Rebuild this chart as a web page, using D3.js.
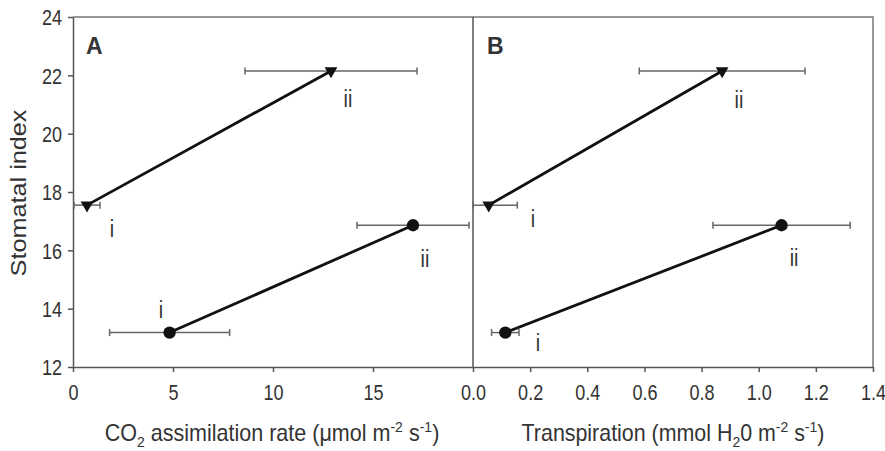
<!DOCTYPE html>
<html>
<head>
<meta charset="utf-8">
<script src="https://cdn.jsdelivr.net/npm/d3@7"></script>
<style>
  body { margin: 0; background: #fff; }
  svg text { font-family: "Liberation Sans", Arial, sans-serif; fill: #333; }
</style>
</head>
<body>
<div id="chart"></div>
<script>
// chart size
var svgWidth = 885;
var svgHeight = 451;

// panel boxes (pixels)
var margin = { top: 17, left: 73 };
var panelW = 400;
var panelH = 350;

// the figure uses a narrow typeface, so text is squeezed sideways
var narrow = 0.82;

// data: two treatments (triangle, circle), stages i and ii
var stages = ["i", "ii"];
var yTicks = [12, 14, 16, 18, 20, 22, 24];
var xTicksA = [0, 5, 10, 15];
var xTicksB = [0, 0.2, 0.4, 0.6, 0.8, 1.0, 1.2, 1.4];

var stomatalTri = [17.55, 22.15];
var stomatalCirc = [13.18, 16.86];

// panel A: CO2 assimilation
var co2Tri = [0.7, 12.9];
var co2TriErr = [0.65, 4.3];
var co2Circ = [4.83, 17.0];
var co2CircErr = [3.0, 2.8];

// panel B: transpiration
var trTri = [0.055, 0.872];
var trTriErr = [0.1, 0.29];
var trCirc = [0.113, 1.08];
var trCircErr = [0.048, 0.24];

var svg = d3.select("#chart").append("svg")
  .attr("width", svgWidth)
  .attr("height", svgHeight);

var yScale = d3.scaleLinear().domain([12, 24]).range([margin.top + panelH, margin.top]);

var xA = d3.scaleLinear().domain([0, 20]).range([margin.left, margin.left + panelW]);
var xB = d3.scaleLinear().domain([0, 1.4]).range([margin.left + panelW, margin.left + 2 * panelW]);

var axisColor = "#555";

// squeeze a text horizontally around its own anchor point
function squeeze(sel, sx) {
  sel.each(function() {
    var t = d3.select(this);
    var x = +t.attr("x") || 0;
    t.attr("transform", `translate(${x},0) scale(${sx},1) translate(${-x},0)`);
  });
}

// frame: top and right border
svg.append("path")
  .attr("d", `M${margin.left},${margin.top}H${margin.left + 2 * panelW}V${margin.top + panelH}`)
  .attr("fill", "none")
  .attr("stroke", "#777")
  .attr("stroke-width", 1.5);

// y axis
var yAxis = svg.append("g")
  .attr("transform", `translate(${margin.left},0)`)
  .call(d3.axisLeft(yScale).tickValues(yTicks).tickSize(5).tickPadding(6).tickSizeOuter(0));

// x axes
var xAxisA = svg.append("g")
  .attr("transform", `translate(0,${margin.top + panelH})`)
  .call(d3.axisBottom(xA).tickValues(xTicksA).tickSize(5).tickPadding(12).tickSizeOuter(0));

var xAxisB = svg.append("g")
  .attr("transform", `translate(0,${margin.top + panelH})`)
  .call(d3.axisBottom(xB).tickValues(xTicksB).tickFormat(d3.format(".1f")).tickSize(5).tickPadding(12).tickSizeOuter(0));

[yAxis, xAxisA, xAxisB].forEach(function(g) {
  g.selectAll("path, line").attr("stroke", axisColor).attr("stroke-width", 1.5);
  g.selectAll("text").attr("font-size", 22).attr("fill", "#333")
    .style("font-family", "'Liberation Sans', Arial, sans-serif");
});
yAxis.selectAll(".tick text").attr("dy", "0.36em").call(squeeze, narrow);
xAxisA.selectAll(".tick text").call(squeeze, narrow);
xAxisB.selectAll(".tick text").call(squeeze, narrow);

// divider between panels
svg.append("line")
  .attr("x1", xB(0)).attr("x2", xB(0))
  .attr("y1", margin.top).attr("y2", margin.top + panelH)
  .attr("stroke", axisColor)
  .attr("stroke-width", 1.5);

// draw one panel's series
function drawPanel(x, triX, triErr, circX, circErr, labelPos) {
  var g = svg.append("g");
  var series = [
    { xs: triX, err: triErr, ys: stomatalTri, shape: d3.symbolTriangle },
    { xs: circX, err: circErr, ys: stomatalCirc, shape: d3.symbolCircle }
  ];
  var x0 = x.range()[0];

  series.forEach(function(s) {
    // error bars
    s.xs.forEach(function(v, i) {
      var lo = Math.max(x(v - s.err[i]), x0);
      var hi = x(v + s.err[i]);
      var y = yScale(s.ys[i]);
      g.append("line").attr("x1", lo).attr("x2", hi).attr("y1", y).attr("y2", y)
        .attr("stroke", "#666").attr("stroke-width", 1.5);
      [lo, hi].forEach(function(cx) {
        g.append("line").attr("x1", cx).attr("x2", cx).attr("y1", y - 3.5).attr("y2", y + 3.5)
          .attr("stroke", "#666").attr("stroke-width", 1.5);
      });
    });

    // connecting line
    g.append("line")
      .attr("x1", x(s.xs[0])).attr("y1", yScale(s.ys[0]))
      .attr("x2", x(s.xs[1])).attr("y2", yScale(s.ys[1]))
      .attr("stroke", "#111").attr("stroke-width", 2.8);

    // markers
    s.xs.forEach(function(v, i) {
      var rot = s.shape === d3.symbolTriangle ? " rotate(180)" : "";
      var size = s.shape === d3.symbolTriangle ? 70 : 120;
      g.append("path")
        .attr("d", d3.symbol().type(s.shape).size(size)())
        .attr("transform", `translate(${x(v)},${yScale(s.ys[i])})${rot}`)
        .attr("fill", "#111");
    });
  });

  // i / ii labels
  labelPos.forEach(function(p) {
    g.append("text")
      .attr("x", p[0]).attr("y", p[1])
      .attr("text-anchor", "middle")
      .attr("font-size", 24)
      .text(p[2])
      .call(squeeze, narrow);
  });
}

drawPanel(xA, co2Tri, co2TriErr, co2Circ, co2CircErr, [
  [112, 237, stages[0]], [348, 107, stages[1]],
  [161, 318, stages[0]], [425, 267, stages[1]]
]);
drawPanel(xB, trTri, trTriErr, trCirc, trCircErr, [
  [533, 227, stages[0]], [739, 108, stages[1]],
  [538, 351, stages[0]], [794, 266, stages[1]]
]);

// panel letters
svg.append("text").attr("x", 86).attr("y", 54)
  .attr("font-size", 23).attr("font-weight", "bold").attr("fill", "#222").text("A");
svg.append("text").attr("x", 487).attr("y", 54)
  .attr("font-size", 23).attr("font-weight", "bold").attr("fill", "#222").text("B");

// fit a text to a given width, keeping its centre
function fitWidth(t, cx, width) {
  var w = t.node().getComputedTextLength();
  var sx = width / w;
  t.attr("transform", `translate(${cx},0) scale(${sx},1) translate(${-cx},0)`);
}

// axis titles
var tY = svg.append("text")
  .attr("x", 0).attr("y", 0)
  .attr("text-anchor", "middle")
  .attr("font-size", 22)
  .text("Stomatal index");
var wY = tY.node().getComputedTextLength();
tY.attr("transform", `translate(26,193) rotate(-90) scale(${167 / wY},1)`);

function subSup(t, parts) {
  parts.forEach(function(p) {
    var s = t.append("tspan").text(p[0]);
    if (p[1] === "sub") s.attr("font-size", 15).attr("dy", 6);
    if (p[1] === "sup") s.attr("font-size", 15).attr("dy", -9);
    if (p[1] === "back") s.attr("dy", -6);
    if (p[1] === "down") s.attr("dy", 9);
  });
}

var tA = svg.append("text")
  .attr("x", 272).attr("y", 441)
  .attr("text-anchor", "middle")
  .attr("font-size", 23);
subSup(tA, [["CO"], ["2", "sub"], [" assimilation rate (\u03bcmol m", "back"], ["-2", "sup"],
  [" s", "down"], ["-1", "sup"], [")", "down"]]);
fitWidth(tA, 272, 335);

var tB = svg.append("text")
  .attr("x", 673).attr("y", 441)
  .attr("text-anchor", "middle")
  .attr("font-size", 23);
subSup(tB, [["Transpiration (mmol H"], ["2", "sub"], ["0 m", "back"], ["-2", "sup"],
  [" s", "down"], ["-1", "sup"], [")", "down"]]);
fitWidth(tB, 673, 303);
</script>
</body>
</html>
